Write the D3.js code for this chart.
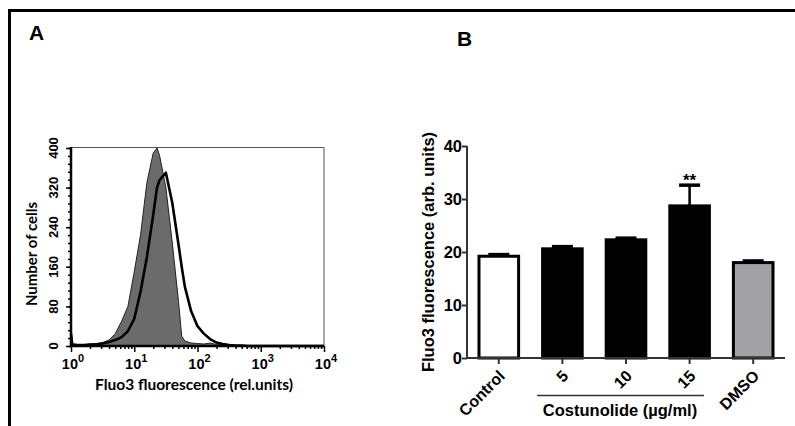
<!DOCTYPE html>
<html><head><meta charset="utf-8">
<script src="https://cdn.jsdelivr.net/npm/d3@7"></script>
<style>body{margin:0;background:#fff}svg{display:block}</style>
</head><body>
<svg id="c" width="795" height="426"></svg>
<script>
// ---------- Panel A data (flow cytometry histogram) ----------
const histLog = [0,0.02,0.1,0.2,0.3,0.4,0.5,0.6,0.7,0.8,0.9,1.0,1.1,1.2,1.3,1.36,1.4,1.5,1.6,1.7,1.75,1.8,1.9,2.0,2.1,2.2,2.3,2.4,2.5,2.6,2.7,2.8,3.0,3.5,4.0];
const controlCounts = [32,4,3,2,4,5,7,12,25,50,80,150,225,330,390,400,385,320,210,90,20,10,6,5,4,6,3,2,1,1,0,0,0,0,0];
const treatedCounts = [25,3,2,2,3,3,5,8,12,18,30,55,110,180,265,320,335,350,290,205,160,120,70,40,25,14,7,4,2,1,1,0,0,0,0];
const histYTicks = [0,80,160,240,320,400];
const histXDecades = [0,1,2,3,4];

// ---------- Panel B data (bar chart) ----------
const barCategories = ["Control","5","10","15","DMSO"];
const barValues = [19.2,20.6,22.3,28.7,18.0];
const barErrors = [0.5,0.6,0.5,4.1,0.5];
const barFills = ["#ffffff","#000000","#000000","#000000","#a2a2a6"];
const barYTicks = [0,10,20,30,40];
const groupLabel = "Costunolide (µg/ml)";
const groupMembers = ["5","10","15"];
const significance = {"15":"**"};

const svg = d3.select("#c");
const ARIAL = "Arial, 'Liberation Sans', sans-serif";
const CAL = "Lato, 'Open Sans', sans-serif";

// frame
svg.append("line").attr("x1",9.5).attr("x2",795).attr("y1",10.5).attr("y2",10.5).attr("stroke","#000").attr("stroke-width",3);
svg.append("line").attr("x1",9.5).attr("x2",9.5).attr("y1",9).attr("y2",426).attr("stroke","#000").attr("stroke-width",3);

// panel letters
svg.append("text").attr("x",29).attr("y",39.5).attr("font-family",ARIAL).attr("font-weight","bold").attr("font-size",21).text("A");
svg.append("text").attr("x",457).attr("y",45.5).attr("font-family",ARIAL).attr("font-weight","bold").attr("font-size",21).text("B");

// ================= Panel A =================
const xA = d3.scaleLog().domain([1,1e4]).range([71,324]);
const yA = d3.scaleLinear().domain([0,400]).range([346,148]);
const gA = svg.append("g");

// thin box top/right
gA.append("line").attr("x1",71).attr("x2",324).attr("y1",147.5).attr("y2",147.5).attr("stroke","#555").attr("stroke-width",1);
gA.append("line").attr("x1",324).attr("x2",324).attr("y1",147.5).attr("y2",346).attr("stroke","#555").attr("stroke-width",1);

const ctrl = histLog.map((l,i)=>({l, c:controlCounts[i]}));
const trt = histLog.map((l,i)=>({l, c:treatedCounts[i]}));
const area = d3.area().x(d=>xA(Math.pow(10,d.l))).y0(yA(0)).y1(d=>yA(d.c));
const line = d3.line().x(d=>xA(Math.pow(10,d.l))).y(d=>yA(d.c));
gA.append("path").datum(ctrl).attr("d",area).attr("fill","#6b6b6b").attr("stroke","#222").attr("stroke-width",1);
gA.append("path").datum(trt).attr("d",line).attr("fill","none").attr("stroke","#000").attr("stroke-width",2.6).attr("stroke-linejoin","round");

// x axis A
const minorX = [];
for (let d=0; d<4; d++) for (let k=2;k<=9;k++) minorX.push(k*Math.pow(10,d));
const axA = gA.append("g").attr("transform",`translate(0,${yA(0)})`);
axA.call(d3.axisBottom(xA).tickValues(minorX).tickSize(3).tickFormat(""));
axA.call(g=>g.select(".domain").remove());
const axA2 = gA.append("g").attr("transform",`translate(0,${yA(0)})`);
axA2.call(d3.axisBottom(xA).tickValues(histXDecades.map(d=>Math.pow(10,d))).tickSize(6).tickFormat(""));
axA2.select(".domain").attr("stroke-width",2.5).attr("d",`M71,0H324`);
gA.selectAll(".tick line").attr("stroke","#000").attr("stroke-width",1.5);
histXDecades.forEach(d=>{
  const t = gA.append("text").attr("x",xA(Math.pow(10,d))+2).attr("y",368.5).attr("text-anchor","middle")
    .attr("font-family",ARIAL).attr("font-weight","bold").attr("font-size",14.5);
  t.append("tspan").text("10");
  t.append("tspan").attr("dy",-6.5).attr("font-size",11).text(d);
});
gA.append("text").attr("x",194).attr("y",390).attr("text-anchor","middle").attr("font-family",CAL)
  .attr("font-weight","bold").attr("font-size",15.5).text("Fluo3 fluorescence (rel.units)");

// y axis A
const minorY = d3.range(0,401,16);
const ayA = gA.append("g").attr("transform",`translate(71,0)`);
ayA.call(d3.axisLeft(yA).tickValues(minorY).tickSize(3).tickFormat(""));
ayA.call(g=>g.select(".domain").remove());
const ayA2 = gA.append("g").attr("transform",`translate(71,0)`);
ayA2.call(d3.axisLeft(yA).tickValues(histYTicks).tickSize(5).tickFormat(""));
ayA2.select(".domain").attr("stroke-width",2.5).attr("d",`M0,${yA(400)-1}V${yA(0)+1}`);
gA.selectAll(".tick line").attr("stroke","#000").attr("stroke-width",1.5);
histYTicks.forEach(v=>{
  gA.append("text").attr("transform",`translate(58,${yA(v)}) rotate(-90)`).attr("text-anchor","middle")
    .attr("font-family",ARIAL).attr("font-weight","bold").attr("font-size",13).text(v);
});
gA.append("text").attr("transform",`translate(37,254) rotate(-90)`).attr("text-anchor","middle")
  .attr("font-family",CAL).attr("font-weight","bold").attr("font-size",15).text("Number of cells");

// ================= Panel B =================
const xB = d3.scaleBand().domain(barCategories).range([467,785]).paddingInner(0.33).paddingOuter(0.165);
const yB = d3.scaleLinear().domain([0,40]).range([358,146]);
const gB = svg.append("g");
const bw = xB.bandwidth();

// error bars
barCategories.forEach((c,i)=>{
  const cx = xB(c)+bw/2;
  gB.append("line").attr("x1",cx).attr("x2",cx).attr("y1",yB(barValues[i])).attr("y2",yB(barValues[i]+barErrors[i]))
    .attr("stroke","#000").attr("stroke-width",2.5);
  gB.append("line").attr("x1",cx-10.5).attr("x2",cx+10.5).attr("y1",yB(barValues[i]+barErrors[i])+1).attr("y2",yB(barValues[i]+barErrors[i])+1)
    .attr("stroke","#000").attr("stroke-width",3.5);
});
// bars
gB.selectAll("rect.bar").data(barCategories).enter().append("rect").attr("class","bar")
  .attr("x",c=>xB(c)+1.5).attr("width",bw-3)
  .attr("y",(c,i)=>yB(barValues[i])).attr("height",(c,i)=>yB(0)-yB(barValues[i]))
  .attr("fill",(c,i)=>barFills[i]).attr("stroke","#000").attr("stroke-width",3);

// axes B
const ayB = gB.append("g").attr("transform","translate(467,0)");
ayB.call(d3.axisLeft(yB).tickValues(barYTicks).tickSize(5).tickFormat(""));
ayB.select(".domain").attr("d",`M0,${yB(40)}V${yB(0)}`).attr("stroke","#333").attr("stroke-width",2);
ayB.selectAll(".tick line").attr("stroke","#333").attr("stroke-width",2);
barYTicks.forEach(v=>{
  gB.append("text").attr("x",462).attr("y",yB(v)+6).attr("text-anchor","end")
    .attr("font-family",ARIAL).attr("font-weight","bold").attr("font-size",16.5).text(v);
});
const axB = gB.append("g").attr("transform",`translate(0,${yB(0)})`);
axB.call(d3.axisBottom(xB).tickSize(6).tickFormat(""));
axB.select(".domain").attr("d","M467,0H785").attr("stroke","#333").attr("stroke-width",2);
axB.selectAll(".tick line").attr("stroke","#333").attr("stroke-width",2);

barCategories.forEach(c=>{
  const cx = xB(c)+bw/2;
  gB.append("text").attr("transform",`translate(${cx+7},377) rotate(-45)`).attr("text-anchor","end")
    .attr("font-family",ARIAL).attr("font-weight","bold").attr("font-size",16).text(c);
});
// significance
barCategories.forEach((c,i)=>{
  if (significance[c]) gB.append("text").attr("x",xB(c)+bw/2).attr("y",186).attr("text-anchor","middle")
    .attr("font-family",ARIAL).attr("font-weight","bold").attr("font-size",17).text(significance[c]);
});
// group bracket
const gx1 = xB(groupMembers[0])-4, gx2 = xB(groupMembers[groupMembers.length-1])+bw-7;
gB.append("line").attr("x1",gx1).attr("x2",gx2).attr("y1",395.5).attr("y2",395.5).attr("stroke","#333").attr("stroke-width",1.5);
gB.append("text").attr("x",620).attr("y",416).attr("text-anchor","middle").attr("font-family",ARIAL)
  .attr("font-weight","bold").attr("font-size",16.5).text(groupLabel);
gB.append("text").attr("transform","translate(434,252) rotate(-90)").attr("text-anchor","middle")
  .attr("font-family",ARIAL).attr("font-weight","bold").attr("font-size",16.5).text("Fluo3 fluorescence (arb. units)");
</script>
</body></html>
